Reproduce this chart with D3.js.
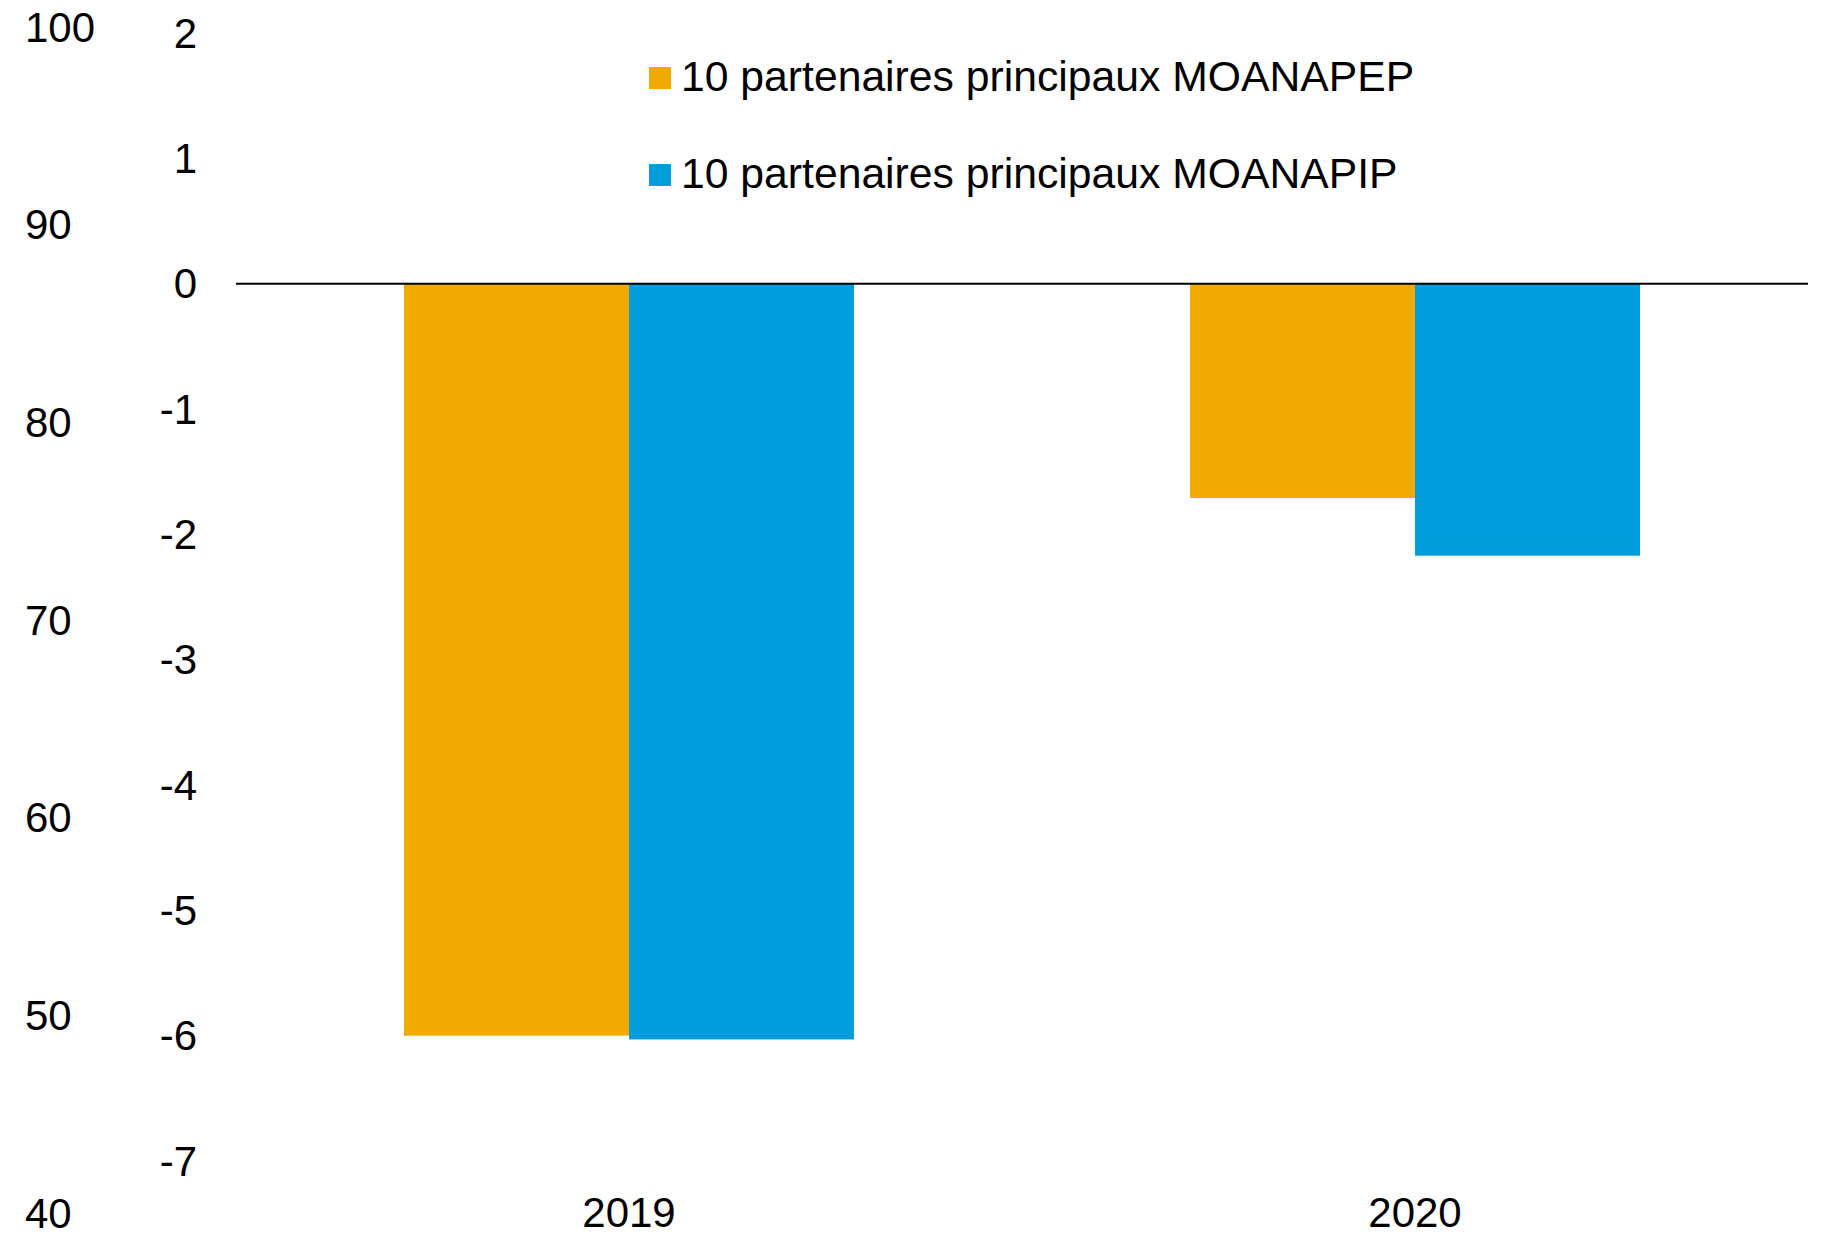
<!DOCTYPE html>
<html>
<head>
<meta charset="utf-8">
<script src="https://cdn.jsdelivr.net/npm/d3@7"></script>
<style>
  body { margin: 0; background: #fff; }
  text { font-family: Arial, "Liberation Sans", sans-serif; fill: #000; }
</style>
</head>
<body>
<div id="chart"></div>
<script>
// categories and series
let years = ['2019', '2020'];
let seriesNames = ['10 partenaires principaux MOANAPEP', '10 partenaires principaux MOANAPIP'];
let moanapep = [-6.0, -1.71];
let moanapip = [-6.03, -2.17];
let colors = ['#f1ab00', '#009ddc'];

// tick labels
let rightTicks = [2, 1, 0, -1, -2, -3, -4, -5, -6, -7];
let leftTicks = [100, 90, 80, 70, 60, 50, 40];

let W = 1826, H = 1235;
let margin = { top: 33, right: 18, bottom: 74, left: 236 };

let svg = d3.select('#chart').append('svg')
    .attr('width', W)
    .attr('height', H);

// scales
let x0 = d3.scaleBand()
    .domain(years)
    .range([margin.left, W - margin.right])
    .paddingInner(0.4275)
    .paddingOuter(0.4275 / 2);

let x1 = d3.scaleBand()
    .domain(d3.range(seriesNames.length))
    .range([0, x0.bandwidth()]);

let y = d3.scaleLinear()
    .domain([-7, 2])
    .range([H - margin.bottom, margin.top]);

// the other axis, only labels
let yLeft = d3.scaleLinear()
    .domain([40, 100])
    .range([1213, 27]);

// bars
let values = [moanapep, moanapip];
values.forEach(function(vals, s) {
    svg.append('g').selectAll('rect')
        .data(vals)
        .enter().append('rect')
        .attr('x', function(d, i) { return x0(years[i]) + x1(s); })
        .attr('width', x1.bandwidth())
        .attr('y', function(d) { return y(Math.max(0, d)); })
        .attr('height', function(d) { return Math.abs(y(d) - y(0)); })
        .attr('fill', colors[s]);
});

// zero line
svg.append('line')
    .attr('x1', margin.left)
    .attr('x2', W - margin.right)
    .attr('y1', y(0))
    .attr('y2', y(0))
    .attr('stroke', '#000')
    .attr('stroke-width', 2);

// right value labels (main axis)
svg.append('g').selectAll('text')
    .data(rightTicks)
    .enter().append('text')
    .attr('x', 197)
    .attr('y', function(d) { return y(d); })
    .attr('text-anchor', 'end')
    .attr('dominant-baseline', 'central')
    .style('font-size', '42px')
    .text(function(d) { return d; });

// left labels
svg.append('g').selectAll('text')
    .data(leftTicks)
    .enter().append('text')
    .attr('x', 25)
    .attr('y', function(d) { return yLeft(d); })
    .attr('dominant-baseline', 'central')
    .style('font-size', '42px')
    .text(function(d) { return d; });

// category labels
svg.append('g').selectAll('text')
    .data(years)
    .enter().append('text')
    .attr('x', function(d) { return x0(d) + x0.bandwidth() / 2; })
    .attr('y', 1212)
    .attr('text-anchor', 'middle')
    .attr('dominant-baseline', 'central')
    .style('font-size', '42px')
    .text(function(d) { return d; });

// legend
let legend = svg.append('g').selectAll('g')
    .data(seriesNames)
    .enter().append('g')
    .attr('transform', function(d, i) { return 'translate(649,' + (78 + i * 97) + ')'; });

legend.append('rect')
    .attr('x', 0)
    .attr('y', -11)
    .attr('width', 22)
    .attr('height', 22)
    .attr('fill', function(d, i) { return colors[i]; });

legend.append('text')
    .attr('x', 32)
    .attr('y', -2)
    .attr('dominant-baseline', 'central')
    .style('font-size', '42.7px')
    .text(function(d) { return d; });
</script>
</body>
</html>
